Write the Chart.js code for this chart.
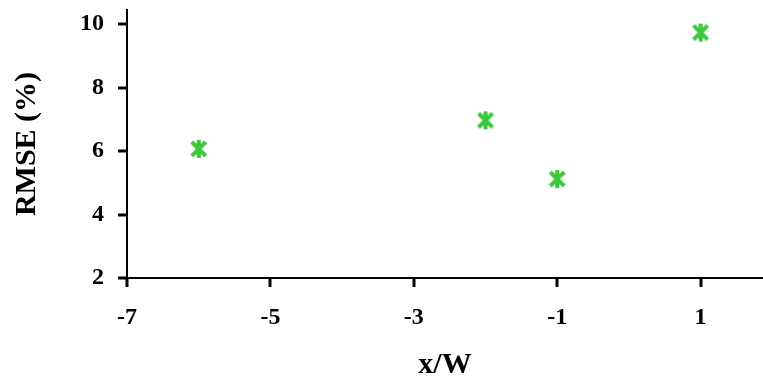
<!DOCTYPE html>
<html lang="en">
  <head>
    <meta charset="UTF-8" />
    <title>RMSE vs x/W</title>
    <script src="https://cdn.jsdelivr.net/npm/chart.js"></script>
    <style>
      html, body { margin: 0; padding: 0; background: #fff; }
      #wrap { width: 763px; height: 383px; }
    </style>
  </head>
  <body>
    <div id="wrap">
      <canvas id="myChart"></canvas>
    </div>
  </body>
  <script>
    // data
    const xPos = [-6, -2, -1, 1];
    const rmse = [6.07, 6.97, 5.12, 9.74];
    const xTicks = [-7, -5, -3, -1, 1];
    const yTicks = [2, 4, 6, 8, 10];

    // asterisk marker (X plus vertical bar)
    function makeMarker() {
      const c = document.createElement("canvas");
      c.width = 20;
      c.height = 20;
      const g = c.getContext("2d");
      g.strokeStyle = "#3cc83c";
      g.lineWidth = 4;
      g.beginPath();
      g.moveTo(3, 3); g.lineTo(17, 17);
      g.moveTo(17, 3); g.lineTo(3, 17);
      g.moveTo(10, 1); g.lineTo(10, 19);
      g.stroke();
      return c;
    }
    const marker = makeMarker();

    const font = "'Liberation Serif', 'Times New Roman', serif";
    const TICK_LEN = 9;

    // outward tick marks at the scale's own tick positions
    const tickMarks = {
      id: "tickMarks",
      afterDatasetsDraw(chart) {
        const g = chart.ctx;
        const area = chart.chartArea;
        const xs = chart.scales.x;
        const ys = chart.scales.y;
        g.save();
        g.fillStyle = "#000";
        xTicks.forEach((v) => {
          const px = Math.round(xs.getPixelForValue(v));
          g.fillRect(px - 1.5, area.bottom, 3, TICK_LEN);
        });
        yTicks.forEach((v) => {
          const py = Math.round(ys.getPixelForValue(v));
          g.fillRect(area.left - TICK_LEN, py - 1.5, TICK_LEN, 3);
        });
        g.restore();
      },
    };

    const gridOpts = {
      display: true,
      drawOnChartArea: false,
      drawTicks: true,
      tickLength: TICK_LEN,
      color: "#000",
      lineWidth: 2,
    };

    const ctx = document.querySelector("#myChart");
    new Chart(ctx, {
      type: "scatter",
      data: {
        datasets: [
          {
            data: xPos.map((x, i) => ({ x: x, y: rmse[i] })),
            pointStyle: marker,
            pointRadius: 10,
          },
        ],
      },
      options: {
        responsive: true,
        maintainAspectRatio: false,
        animation: false,
        layout: { autoPadding: false, padding: { top: 10, right: 0, left: 0, bottom: 0 } },
        plugins: { legend: { display: false }, tooltip: { enabled: false } },
        scales: {
          x: {
            type: "linear",
            min: -7,
            max: 1.87,
            afterBuildTicks: (s) => { s.ticks = xTicks.map((v) => ({ value: v })); },
            afterFit: (s) => {
              s.height = 105;
              s.paddingLeft = 0;
              s.paddingRight = 0;
            },
            grid: gridOpts,
            border: { display: true, color: "#000", width: 2 },
            ticks: { color: "#000", padding: 16, font: { family: font, size: 24, weight: "bold" } },
            title: {
              display: true,
              text: "x/W",
              color: "#000",
              padding: { top: 0, bottom: 0 },
              font: { family: font, size: 30, weight: "bold" },
            },
          },
          y: {
            min: 2,
            max: 10.45,
            afterBuildTicks: (s) => { s.ticks = yTicks.map((v) => ({ value: v })); },
            afterFit: (s) => {
              s.width = 127;
              s.paddingTop = 0;
              s.paddingBottom = 0;
            },
            grid: gridOpts,
            border: { display: true, color: "#000", width: 2 },
            ticks: { color: "#000", padding: 14, font: { family: font, size: 24, weight: "bold" } },
            title: {
              display: true,
              text: "RMSE (%)",
              color: "#000",
              padding: { top: 9, bottom: 0 },
              font: { family: font, size: 30, weight: "bold" },
            },
          },
        },
      },
      plugins: [tickMarks],
    });
  </script>
</html>
